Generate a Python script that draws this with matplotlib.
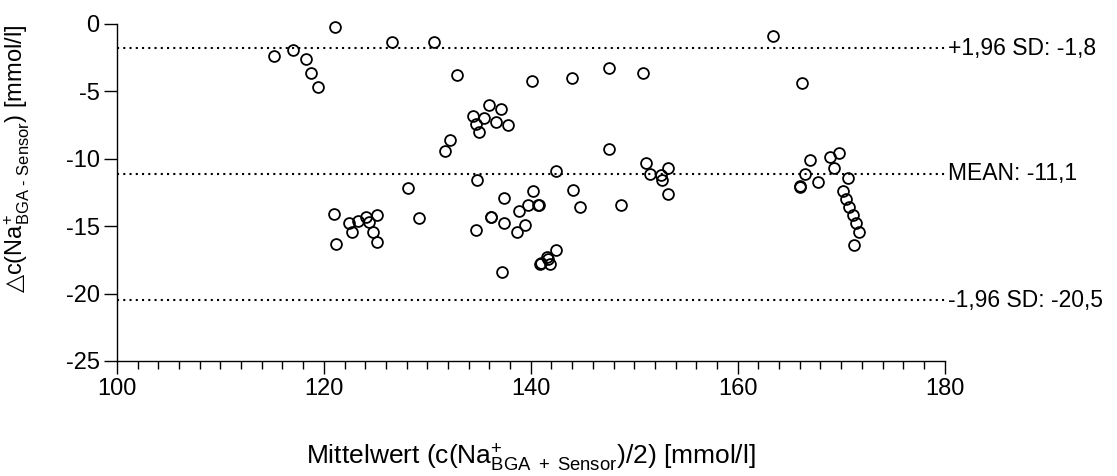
import numpy as np
import matplotlib.pyplot as plt
from matplotlib.ticker import MultipleLocator

plt.rcParams['font.family'] = ['Liberation Sans', 'DejaVu Sans']
plt.rcParams['axes.unicode_minus'] = False
plt.rcParams['mathtext.fontset'] = 'custom'
plt.rcParams['mathtext.rm'] = 'Liberation Sans'
plt.rcParams['mathtext.it'] = 'Liberation Sans'
plt.rcParams['mathtext.sf'] = 'DejaVu Sans'

# Bland-Altman data: mean of both methods vs. difference (mmol/l)
mean_vals = [
    115.2, 117.0, 118.3, 118.8, 119.4, 121.1, 126.6, 130.6, 132.2, 131.7,
    128.1, 121.0, 122.4, 123.3, 124.1, 125.1, 124.4, 122.7, 124.7, 121.2,
    125.1, 129.2, 132.9, 136.0, 137.1, 134.4, 135.5, 134.7, 136.6, 137.8,
    135.0, 140.1, 144.0, 147.6, 150.8, 147.6, 142.4, 134.8, 140.2, 144.1,
    137.4, 139.7, 140.7, 140.75, 138.9, 144.8, 148.7, 136.15, 136.2, 137.4,
    139.4, 138.7, 134.7, 142.4, 141.6, 141.7, 140.9, 140.95, 141.9, 137.2,
    151.1, 151.5, 152.6, 152.7, 153.3, 153.3, 163.4, 166.2, 166.0, 166.05,
    166.5, 167.0, 167.8, 168.9, 169.8, 169.3, 170.7, 170.2, 170.5, 170.8,
    171.1, 171.4, 171.7, 171.2,
]
diff_vals = [
    -2.4, -1.9, -2.6, -3.6, -4.7, -0.2, -1.3, -1.3, -8.6, -9.4,
    -12.2, -14.1, -14.8, -14.6, -14.3, -14.2, -14.7, -15.4, -15.4, -16.3,
    -16.2, -14.4, -3.8, -6.0, -6.3, -6.8, -7.0, -7.4, -7.3, -7.5,
    -8.0, -4.2, -4.0, -3.3, -3.6, -9.3, -10.9, -11.6, -12.4, -12.3,
    -12.9, -13.4, -13.4, -13.45, -13.9, -13.6, -13.4, -14.35, -14.3, -14.8,
    -14.9, -15.4, -15.3, -16.8, -17.3, -17.4, -17.8, -17.75, -17.8, -18.4,
    -10.3, -11.1, -11.2, -11.6, -10.7, -12.6, -0.9, -4.4, -12.1, -12.05,
    -11.1, -10.1, -11.7, -9.9, -9.6, -10.7, -11.4, -12.4, -13.0, -13.6,
    -14.2, -14.8, -15.4, -16.4,
]

ref_vals = [-1.8, -11.1, -20.5]
ref_labels = ['+1,96 SD: -1,8', 'MEAN: -11,1', '-1,96 SD: -20,5']

fig = plt.figure(figsize=(11.17, 4.76), dpi=100)
ax = fig.add_axes([0.1047, 0.2416, 0.7410, 0.7080])

for v, lab in zip(ref_vals, ref_labels):
    ax.plot([100, 180.2], [v, v], color='black', lw=1.5,
            linestyle=(0, (1, 2)), clip_on=False, zorder=1)
    ax.text(180.3, v, lab, fontsize=16.5, va='center', ha='left')

ax.plot(mean_vals, diff_vals, 'o', mfc='none', mec='black', ms=7.8,
        mew=1.3, clip_on=False, zorder=3)

ax.set_xlim(100, 180)
ax.set_ylim(-25, 0)
ax.xaxis.set_major_locator(MultipleLocator(20))
ax.xaxis.set_minor_locator(MultipleLocator(2))
ax.yaxis.set_major_locator(MultipleLocator(5))

for s in ['top', 'right']:
    ax.spines[s].set_visible(False)
for s in ['left', 'bottom']:
    ax.spines[s].set_linewidth(1.0)

ax.tick_params(which='major', length=9.5, width=1.0, labelsize=17, pad=3)
ax.tick_params(which='minor', length=5.5, width=1.0)

ax.set_xlabel('Mittelwert (c(Na$^{+}_{\\mathrm{BGA\\ +\\ Sensor}}$)/2) [mmol/l]',
              fontsize=19)
ax.set_ylabel('$\\mathsf{△}$c(Na$^{+}_{\\mathrm{BGA\\ \u2010\\ Sensor}}$) [mmol/l]',
              fontsize=17)
ax.xaxis.set_label_coords(0.5, -0.288)
ax.yaxis.set_label_coords(-0.12, 0.6)
ax.xaxis.label.set_va('center')
ax.yaxis.label.set_va('center')

fig.savefig('out.png', dpi=100)
